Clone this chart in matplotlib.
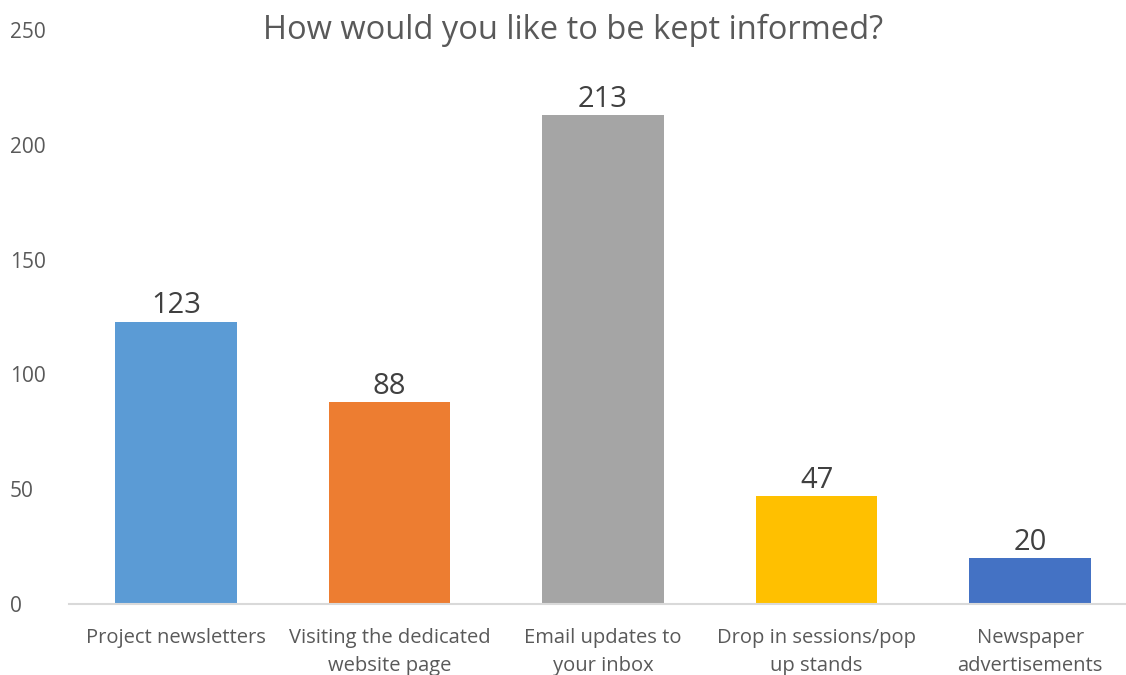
import matplotlib.pyplot as plt

categories = ["Project newsletters", "Visiting the dedicated\nwebsite page",
              "Email updates to\nyour inbox", "Drop in sessions/pop\nup stands",
              "Newspaper\nadvertisements"]
counts = [123, 88, 213, 47, 20]
colors = ["#5B9BD5", "#ED7D31", "#A5A5A5", "#FFC000", "#4472C4"]
yticks = [0, 50, 100, 150, 200, 250]

plt.rcParams['font.family'] = ['Open Sans', 'DejaVu Sans']

fig = plt.figure(figsize=(11.26, 6.75), dpi=100)
ax = fig.add_axes([69/1126, 71/675, 1068/1126, 574/675])

x = range(len(counts))
bars = ax.bar(x, counts, width=0.57, color=colors, zorder=2)
for xi, v in zip(x, counts):
    ax.text(xi, v + 0.5, str(v), ha='center', va='bottom', fontsize=21, color='#404040')

ax.set_xlim(-0.5, 4.5)
ax.set_ylim(0, 250)
ax.set_yticks(yticks)
ax.set_xticks(list(x))
ax.set_xticklabels(categories, fontsize=14.5, color='#595959', linespacing=1.55)
ax.tick_params(axis='y', length=0, labelsize=15, labelcolor='#595959', pad=42.5)
ax.tick_params(axis='x', length=0, pad=17)
for lab in ax.get_yticklabels():
    lab.set_horizontalalignment('left')

for s in ['top', 'right', 'left']:
    ax.spines[s].set_visible(False)
ax.spines['bottom'].set_color('#D9D9D9')
ax.spines['bottom'].set_linewidth(1.5)

fig.text(573/1126, 1 - 30/675, "How would you like to be kept informed?",
         ha='center', va='center', fontsize=23.5, color='#595959')

fig.savefig('out.png', dpi=100)
